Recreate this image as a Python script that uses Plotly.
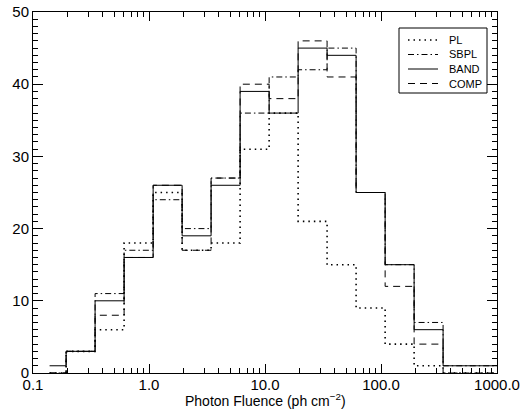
import numpy as np
import plotly.graph_objects as go

# Bin edges: 4 bins per decade from 0.1 to 1000 (log-spaced)
bin_edges = [0.1, 0.178, 0.316, 0.562, 1.0, 1.78, 3.16, 5.62, 10.0, 17.8,
             31.6, 56.2, 100.0, 178.0, 316.0, 562.0, 1000.0]

# Counts per bin for each spectral model
PL   = [0, 3,  6, 18, 25, 17, 18, 31, 36, 21, 15,  9,  4, 1, 0, 0]
SBPL = [0, 3, 11, 17, 24, 20, 27, 36, 41, 42, 45, 25, 15, 7, 1, 1]
BAND = [1, 3, 10, 16, 26, 19, 26, 39, 36, 45, 44, 25, 15, 6, 1, 1]
COMP = [0, 3,  8, 16, 26, 17, 27, 40, 38, 46, 41, 25, 12, 4, 0, 0]

series_names = ["PL", "SBPL", "BAND", "COMP"]
x_tickvals = [0.1, 1, 10, 100, 1000]
x_ticktext = ["0.1", "1.0", "10.0", "100.0", "1000.0"]
y_tickvals = [0, 10, 20, 30, 40, 50]

# Histogram drawn in the style of IDL psym=10: points at (linear) bin centres,
# steps at midpoints between successive centres
edges = np.array(bin_edges)
centres = (edges[:-1] + edges[1:]) / 2
trans = (centres[:-1] + centres[1:]) / 2
xs = np.concatenate([[centres[0]], trans, [edges[-1]]])

def ys(v):
    return list(v) + [v[-1]]

W, H = 531, 415
ML, MR, MT, MB = 33, 34, 12, 42
PW, PH = W - ML - MR, H - MT - MB

def px2paper(x, y):
    return (x - ML) / PW, (H - MB - y) / PH

FONT = "Liberation Sans, Arial, Helvetica, sans-serif"
fig = go.Figure()
dashes = ["1.5px,4px", "6px,3px,1.5px,3px", "solid", "7px,5px"]
widths = [1.6, 1.0, 1.0, 1.0]
for name, vals, dash, w in zip(series_names, [PL, SBPL, BAND, COMP], dashes, widths):
    fig.add_trace(go.Scatter(
        x=xs, y=ys(vals), mode="lines", name=name, showlegend=False,
        line=dict(color="black", width=w, dash=dash, shape="hv"),
    ))

# Legend box drawn manually (compact IDL-style legend)
shapes, annotations = [], []
bx0, by0 = px2paper(399, 93)
bx1, by1 = px2paper(487, 28)
shapes.append(dict(type="rect", xref="paper", yref="paper", x0=bx0, y0=by0,
                   x1=bx1, y1=by1, line=dict(color="black", width=1),
                   fillcolor="white", layer="above"))
row_y = [40, 54.5, 69, 83.5]
for name, dash, w, ry in zip(series_names, dashes, widths, row_y):
    lx0, ly = px2paper(408, ry)
    lx1, _ = px2paper(438, ry)
    shapes.append(dict(type="line", xref="paper", yref="paper", x0=lx0, x1=lx1,
                       y0=ly, y1=ly, layer="above",
                       line=dict(color="black", width=w, dash=dash)))
    tx, _ = px2paper(447, ry)
    annotations.append(dict(text=name, xref="paper", yref="paper", x=tx, y=ly,
                            xanchor="left", yanchor="middle", showarrow=False,
                            font=dict(size=11)))

# x-axis title
annotations.append(dict(text="Photon Fluence (ph cm<sup>\u22122</sup>)",
                        xref="paper", yref="paper", x=0.5, y=0,
                        xanchor="center", yanchor="middle", yshift=-27,
                        showarrow=False, font=dict(size=14)))

axis_common = dict(showline=True, linecolor="black", linewidth=1,
                   ticks="inside", tickcolor="black", showgrid=False,
                   zeroline=False, automargin=False)

fig.update_layout(
    width=W, height=H,
    margin=dict(l=ML, r=MR, t=MT, b=MB),
    paper_bgcolor="white", plot_bgcolor="white",
    font=dict(family=FONT, size=15, color="black"),
    xaxis=dict(type="log", range=[-1, 3], tickvals=x_tickvals,
               ticktext=x_ticktext, ticklen=9, tickwidth=1,
               ticklabelstandoff=-2,
               minor=dict(ticks="inside", ticklen=5, tickcolor="black",
                          dtick="D1", showgrid=False),
               **axis_common),
    yaxis=dict(range=[0, 50], tickvals=y_tickvals, ticklen=10, tickwidth=1,
               minor=dict(ticks="inside", ticklen=5, tickcolor="black",
                          dtick=1, showgrid=False),
               **axis_common),
    xaxis2=dict(type="log", range=[-1, 3], overlaying="x", side="top",
                tickvals=x_tickvals, showticklabels=False, ticklen=9,
                minor=dict(ticks="inside", ticklen=5, tickcolor="black",
                           dtick="D1", showgrid=False),
                **axis_common),
    yaxis2=dict(range=[0, 50], overlaying="y", side="right",
                tickvals=y_tickvals, showticklabels=False, ticklen=10,
                minor=dict(ticks="inside", ticklen=5, tickcolor="black",
                           dtick=1, showgrid=False),
                **axis_common),
    shapes=shapes,
    annotations=annotations,
    showlegend=False,
)
# invisible trace to activate the mirrored axes
fig.add_trace(go.Scatter(x=[1], y=[0], xaxis="x2", yaxis="y2",
                         mode="markers", marker=dict(opacity=0),
                         showlegend=False, hoverinfo="skip"))

fig.write_html("out.html")
